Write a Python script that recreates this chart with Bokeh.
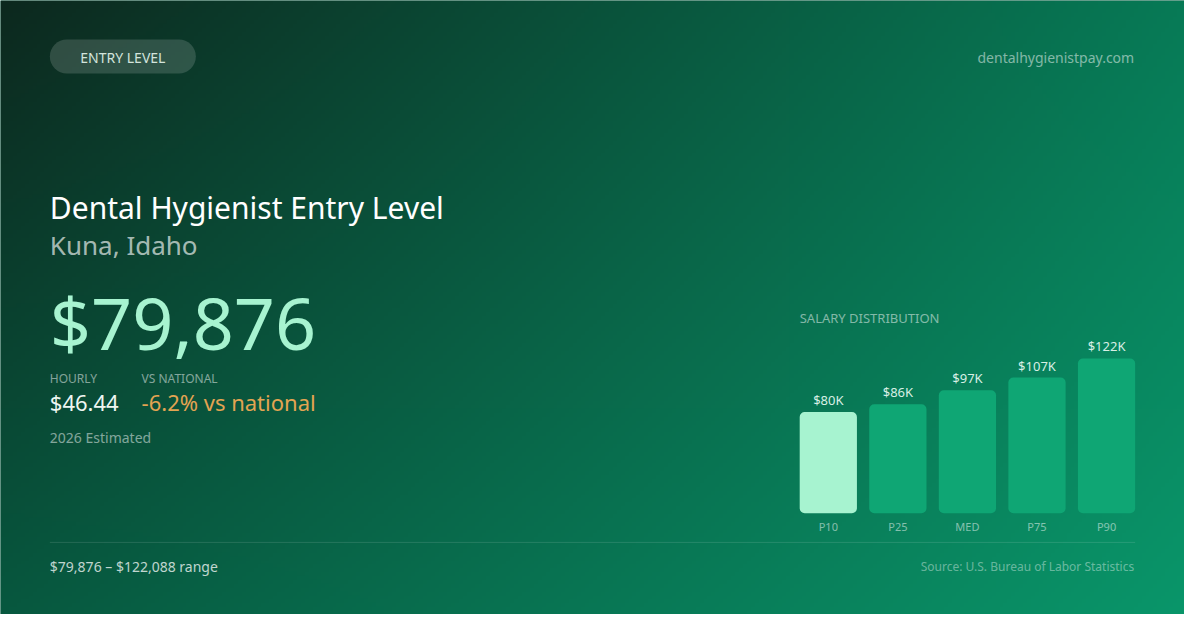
import numpy as np
from bokeh.plotting import figure
from bokeh.models import Range1d, Label
from bokeh.core.properties import value
from bokeh.embed import file_html
from bokeh.resources import INLINE

# ---------------- data ----------------
categories = ["P10", "P25", "MED", "P75", "P90"]
salaries = [79876, 86000, 97000, 107000, 122088]
hourly = 46.44
vs_national_pct = -6.2
year = 2026
title_text = "Dental Hygienist Entry Level"
location_text = "Kuna, Idaho"
level_text = "ENTRY LEVEL"
site_text = "dentalhygienistpay.com"
source_text = "Source: U.S. Bureau of Labor Statistics"

# ---------------- canvas ----------------
W, H, M = 1200, 630, 8
FONT = "Noto Sans"


def Y(py):
    return H - py


p = figure(width=W - 2 * M, height=H - 2 * M,
           x_range=Range1d(0, W), y_range=Range1d(0, H),
           x_axis_type=None, y_axis_type=None,
           output_backend="svg", toolbar_location=None, min_border=0)
p.grid.visible = False
p.outline_line_color = None
p.background_fill_color = "#08593f"
p.border_fill_color = "#08593f"

# background gradient (bilinear between corner colours)
gh, gw = 158, 300
u = (np.arange(gw) + 0.5) / gw
v = (np.arange(gh) + 0.5) / gh
uu, vv = np.meshgrid(u, v)
uu = uu[..., None]
vv = vv[..., None]
TL = np.array([13, 40, 30])
TR = np.array([7, 122, 86])
BL = np.array([7, 88, 63])
BR = np.array([10, 150, 106])
col = TL * (1 - uu) * (1 - vv) + TR * uu * (1 - vv) + BL * (1 - uu) * vv + BR * uu * vv
img = np.empty((gh, gw), dtype=np.uint32)
view = img.view(np.uint8).reshape(gh, gw, 4)
view[..., :3] = np.clip(col, 0, 255).astype(np.uint8)
view[..., 3] = 255
img = np.ascontiguousarray(img[::-1])
p.image_rgba(image=[img], x=0, y=0, dw=W, dh=H)

# pill
p.quad(left=50, right=198, top=Y(40), bottom=Y(75), fill_color="white",
       fill_alpha=0.15, line_color=None, border_radius=17)


def lab(x, py, text, size, color, alpha=1.0, align="left"):
    p.add_layout(Label(x=x, y=Y(py), text=text, text_font=FONT,
                       text_font_size=size, text_color=color, text_alpha=alpha,
                       text_align=align, text_baseline="middle"))


lab(124, 58, level_text, "14px", "#d3e4dc", align="center")
lab(1149, 58, site_text, "14px", "white", alpha=0.5, align="right")
lab(50, 212, title_text, "30px", "#ffffff")
lab(50, 251, location_text, "26px", "white", alpha=0.65)
lab(50, 330, f"${salaries[0]:,}", "72px", "#a7f3d0")
lab(50, 387.5, "HOURLY", "12px", "white", alpha=0.5)
lab(143, 387.5, "VS NATIONAL", "12px", "white", alpha=0.5)
lab(50, 412, f"${hourly:.2f}", "22px", "#eef6f2")
lab(143, 412, f"{vs_national_pct:.1f}% vs national", "22px", "#e3a452")
lab(50, 448.5, f"{year} Estimated", "14px", "white", alpha=0.5)
lab(810, 325.5, "SALARY DISTRIBUTION", "13px", "white", alpha=0.5)

# separator
p.segment(x0=50, y0=Y(556), x1=1150, y1=Y(556), line_color="white",
          line_alpha=0.12, line_width=1)

lab(50, 581, f"${salaries[0]:,} \u2013 ${salaries[-1]:,} range", "14px", "white", alpha=0.75)
lab(1149, 581, source_text, "12px", "white", alpha=0.4, align="right")

# ---------------- bar chart (own ranges) ----------------
pitch = 70.5
first_center = 839
base_px = 526
px_per_dollar = 1.3 / 1000
p.extra_x_ranges = {"cat": Range1d((0 - first_center) / pitch, (W - first_center) / pitch)}
p.extra_y_ranges = {"sal": Range1d((base_px - H) / px_per_dollar, base_px / px_per_dollar)}

idx = list(range(len(categories)))
bar_colors = ["#a7f3d0"] + ["#0fa674"] * (len(categories) - 1)
p.vbar(x=idx, top=salaries, bottom=0, width=58 / pitch, x_range_name="cat",
       y_range_name="sal", fill_color=bar_colors, line_color=None, border_radius=5)

value_labels = [f"${round(s / 1000)}K" for s in salaries]
p.text(x=idx, y=salaries, text=value_labels, x_range_name="cat", y_range_name="sal",
       text_align="center", text_baseline="middle", y_offset=-12,
       text_font=value(FONT), text_font_size="13px", text_color="#d8efe5")
p.text(x=idx, y=[0] * len(idx), text=categories, x_range_name="cat", y_range_name="sal",
       text_align="center", text_baseline="middle", y_offset=13,
       text_font=value(FONT), text_font_size="11px", text_color="white", text_alpha=0.5)

open("out.html", "w").write(file_html(p, INLINE))
